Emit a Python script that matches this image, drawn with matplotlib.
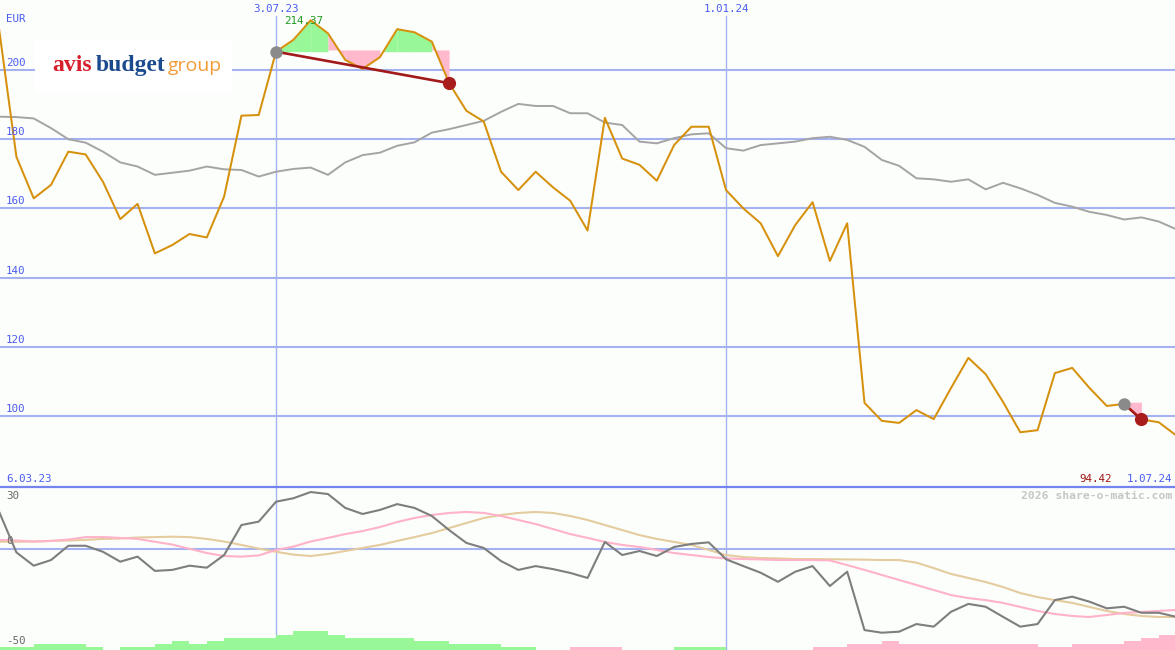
import matplotlib
matplotlib.use('Agg')
import matplotlib.pyplot as plt
import matplotlib.dates as mdates
import matplotlib.transforms as mtransforms
from matplotlib.patches import Rectangle
from matplotlib.lines import Line2D
import numpy as np
import pandas as pd

# ---------------- data (weekly) ----------------
weeks = pd.date_range('2023-03-13', periods=69, freq='7D')

price = [211.8, 174.9, 162.9, 166.8, 176.4, 175.6, 167.7, 156.9, 161.3, 147.0,
         149.4, 152.6, 151.6, 163.4, 186.8, 187.0, 205.3, 208.7, 214.37, 210.6,
         202.9, 200.3, 203.7, 211.8, 210.9, 208.2, 196.2, 188.2, 185.1, 170.6,
         165.3, 170.6, 166.1, 162.2, 153.6, 186.2, 174.4, 172.6, 168.0, 178.3,
         183.6, 183.6, 165.3, 160.0, 155.7, 146.2, 155.2, 161.8, 144.8, 155.7,
         103.8, 98.6, 98.0, 101.7, 99.1, 108.1, 116.8, 112.1, 104.1, 95.3,
         95.9, 112.4, 113.9, 108.1, 102.9, 103.5, 99.0, 98.2, 94.42]

bench = [186.5, 186.4, 186.0, 183.2, 180.0, 179.0, 176.4, 173.3, 172.1, 169.7,
         170.3, 170.9, 172.1, 171.3, 171.1, 169.2, 170.6, 171.4, 171.8, 169.7,
         173.3, 175.4, 176.1, 178.1, 179.1, 181.9, 182.9, 184.1, 185.3, 187.9,
         190.2, 189.6, 189.6, 187.5, 187.5, 184.8, 184.1, 179.3, 178.8, 180.3,
         181.4, 181.7, 177.4, 176.7, 178.3, 178.8, 179.3, 180.3, 180.7, 179.8,
         177.8, 174.0, 172.3, 168.7, 168.4, 167.7, 168.4, 165.5, 167.4, 165.8,
         163.9, 161.6, 160.5, 159.0, 158.1, 156.8, 157.4, 156.2, 154.0]

momentum = [18.7, -1.5, -8.1, -5.3, 1.8, 1.8, -1.2, -6.1, -3.6, -10.7,
            -10.2, -8.1, -9.1, -2.8, 12.1, 13.8, 23.7, 25.4, 28.5, 27.5,
            20.6, 17.6, 19.6, 22.5, 20.6, 16.6, 9.6, 3.2, 0.7, -5.8,
            -10.2, -8.3, -9.8, -11.7, -14.2, 3.7, -2.8, -0.8, -3.3, 1.2,
            2.7, 3.5, -4.9, -8.3, -11.6, -16.1, -11.1, -8.3, -18.2, -11.1,
            -40.1, -41.4, -40.9, -37.1, -38.4, -31.0, -27.1, -28.5, -33.5, -38.4,
            -37.1, -25.2, -23.5, -26.0, -29.3, -28.5, -31.5, -31.5, -33.5]

sig_fast = [4.7, 4.4, 3.9, 4.2, 4.9, 6.1, 6.1, 5.7, 5.2, 3.8,
            2.4, 0.3, -1.8, -3.3, -3.6, -3.0, -0.3, 1.4, 3.9, 5.7,
            7.6, 9.1, 11.1, 13.6, 15.6, 17.1, 18.1, 18.6, 18.1, 16.6,
            14.6, 12.6, 10.1, 7.6, 5.7, 3.7, 2.2, 1.2, -0.3, -1.8,
            -2.8, -3.8, -4.5, -4.8, -5.0, -5.3, -5.3, -5.3, -5.5, -7.8,
            -10.2, -12.7, -15.2, -17.7, -20.2, -22.7, -24.2, -25.2, -26.6, -28.6,
            -30.6, -32.1, -33.1, -33.6, -32.6, -31.6, -31.1, -30.6, -30.1]

sig_slow = [3.8, 3.8, 3.9, 4.2, 4.4, 4.7, 5.2, 5.4, 5.9, 6.1,
            6.3, 6.1, 5.2, 3.9, 2.2, 0.4, -1.2, -2.6, -3.3, -2.3,
            -0.8, 0.7, 2.2, 4.2, 6.1, 8.1, 10.6, 13.1, 15.6, 17.1,
            18.1, 18.6, 18.1, 16.6, 14.6, 12.1, 9.6, 7.1, 5.2, 3.7,
            2.2, -0.3, -2.8, -3.8, -4.3, -4.5, -4.8, -4.8, -4.9, -5.0,
            -5.1, -5.3, -5.3, -6.6, -9.3, -12.2, -14.2, -16.2, -18.7, -21.7,
            -23.7, -25.2, -26.6, -28.6, -30.6, -32.1, -33.1, -33.6, -33.6]

# weekly histogram (positive = green, negative = pink), one per interval
hist = [1.5, 1.5, 3, 3, 3, 1.5, 0, 1.5, 1.5, 3,
        4.5, 3, 4.5, 6, 6, 6, 7.5, 9.5, 9.5, 7.5,
        6, 6, 6, 6, 4.5, 4.5, 3, 3, 3, 1.5,
        1.5, 0, 0, -1.5, -1.5, -1.5, 0, 0, 0, 1.5,
        1.5, 1.5, 0, 0, 0, 0, 0, -1.5, -1.5, -3,
        -3, -4.5, -3, -3, -3, -3, -3, -3, -3, -3,
        -1.5, -1.5, -3, -3, -3, -4.5, -6, -7.5]

price_ticks = [200, 180, 160, 140, 120, 100]
marked_dates = ['2023-07-03', '2024-01-01']
trend_windows = [(16, 26), (65, 66)]   # start / end week index of trend markers
first_label = '6.03.23'
last_label = '1.07.24'

# ---------------- styles ----------------
BG = '#FCFEFC'
GRID = '#A4B2F2'
SEP = '#7484EE'
TXT_BLUE = '#4A5CF0'
ORANGE = '#D6910C'
BENCH = '#A4A4A4'
GREENF = '#98F898'
PINKF = '#FFB8CC'
MONO = 'DejaVu Sans Mono'
FS = 7.8

W, H = 1175.0, 650.0
fig = plt.figure(figsize=(11.75, 6.5), dpi=100)
fig.patch.set_facecolor(BG)
ax = fig.add_axes([0, (H - 487) / H, 1, 487 / H])
ax2 = fig.add_axes([0, 0, 1, (H - 487) / H])
for a in (ax, ax2):
    a.set_facecolor(BG)
    for s in a.spines.values():
        s.set_visible(False)
    a.set_xticks([])
    a.set_yticks([])

x = mdates.date2num(weeks)
xl = (x[0] + 0.36, x[0] + 67.94 * 7)
ax.set_xlim(xl)
ax2.set_xlim(xl)
ax.set_ylim(79.48, 220.23)
ax2.set_ylim(-50, 31.0)

p = np.array(price)

# grid lines
for v in price_ticks:
    ax.axhline(v, color=GRID, lw=1.5, zorder=1)
ax2.axhline(0, color=GRID, lw=1.5, zorder=1)
for d in marked_dates:
    xd = mdates.date2num(pd.Timestamp(d))
    ax.axvline(xd, ymin=0, ymax=(487 - 16) / 487, color=GRID, lw=1.0, zorder=1)
    ax2.axvline(xd, color=GRID, lw=1.0, zorder=1)
    ax.text(xd, 1 - 9 / 487, pd.Timestamp(d).strftime('%-d.%m.%y'),
            transform=ax.get_xaxis_transform(), ha='center', va='center',
            fontsize=FS, family=MONO, color=TXT_BLUE)

# separator line between panels
fig.add_artist(Line2D([0, 1], [(H - 487) / H] * 2, color=SEP, lw=1.6,
                      transform=fig.transFigure, zorder=5))

# trend fills
for (a, b) in trend_windows:
    base = p[a]
    for k in range(a, b):
        xs = x[k:k + 2]
        ys = p[k:k + 2]
        if p[k + 1] >= base:
            ax.fill_between(xs, ys, base, where=ys >= base, interpolate=True,
                            color=GREENF, lw=0, zorder=2)
        else:
            ax.fill_between(xs, ys, base + 0.5, color=PINKF, lw=0, zorder=2)

# lines
ax.plot(x, bench, color=BENCH, lw=1.4, zorder=3)
ax.plot(x, p, color=ORANGE, lw=1.45, zorder=4)

for (a, b) in trend_windows:
    ax.plot([x[a], x[b]], [p[a], p[b]], color='#A21A1A', lw=1.9, zorder=5)
    ax.scatter([x[a]], [p[a]], s=80, color='#8A8A8A', zorder=6, lw=0)
    ax.scatter([x[b]], [p[b]], s=90, color='#A81C1C', zorder=6, lw=0)

# max label
imax = int(np.argmax(p))
ax.annotate(f'{p[imax]:.2f}', xy=(x[imax], p[imax]), xytext=(-7, -1),
            textcoords='offset pixels', ha='center', va='center',
            fontsize=FS, family=MONO, color='#1E9A1E', zorder=7)

# y labels main
tr = mtransforms.offset_copy(ax.get_yaxis_transform(), fig=fig, x=0, y=2, units='dots')
for v in price_ticks:
    ax.text(6 / W, v, str(v), transform=tr, ha='left', va='bottom',
            fontsize=FS, family=MONO, color=TXT_BLUE, zorder=7)
ax.text(6 / W, 1 - 19 / 487, 'EUR', transform=ax.transAxes, ha='left', va='center',
        fontsize=FS, family=MONO, color=TXT_BLUE)

# bottom labels main panel
yb = (487 - 479) / 487
ax.text(6 / W, yb, first_label, transform=ax.transAxes, ha='left', va='center',
        fontsize=FS, family=MONO, color=TXT_BLUE)
ax.text(1172 / W, yb, last_label, transform=ax.transAxes, ha='right', va='center',
        fontsize=FS, family=MONO, color=TXT_BLUE)
ax.text(1112 / W, yb, f'{p[-1]:.2f}', transform=ax.transAxes, ha='right', va='center',
        fontsize=FS, family=MONO, color='#A01414')

# lower panel
hv = np.array(hist)
cols = [GREENF if v > 0 else PINKF for v in hv]
ax2.bar(x[:-1], np.abs(hv), width=7, align='edge', bottom=-50, color=cols, lw=0, zorder=2)
ax2.plot(x, sig_slow, color='#E4CC9E', lw=1.5, zorder=3)
ax2.plot(x, sig_fast, color='#FFB2C8', lw=1.5, zorder=3)
ax2.plot(x, momentum, color='#7E7E7E', lw=1.5, zorder=4)

LG = '#6A6A6A'
ax2.text(6 / W, (H - 496) / 163, '30', transform=ax2.transAxes, ha='left', va='center',
         fontsize=FS, family=MONO, color=LG)
ax2.text(6 / W, (H - 541) / 163, '0', transform=ax2.transAxes, ha='left', va='center',
         fontsize=FS, family=MONO, color=LG)
ax2.text(6 / W, (H - 641) / 163, '-50', transform=ax2.transAxes, ha='left', va='center',
         fontsize=FS, family=MONO, color=LG)
ax2.text(1172 / W, (H - 496) / 163, '2026 share-o-matic.com', transform=ax2.transAxes,
         ha='right', va='center', fontsize=8.2, family=MONO, fontweight='bold',
         color='#C6C6C6')

# logo
fig.add_artist(Rectangle((35 / W, 1 - 92 / H), 197 / W, 52 / H, transform=fig.transFigure,
                         facecolor='white', edgecolor='none', zorder=2))
yb_logo = 1 - 71 / H
fig.text(52 / W, yb_logo, 'avis', family='Liberation Serif', fontweight='bold',
         fontsize=17, color='#D71E2B', va='baseline', ha='left', zorder=3)
fig.text(96 / W, yb_logo, 'budget', family='Liberation Serif', fontweight='bold',
         fontsize=17, color='#1B4A8E', va='baseline', ha='left', zorder=3)
fig.text(168 / W, yb_logo, 'group', family='Open Sans',
         fontsize=14, color='#F39C38', va='baseline', ha='left', zorder=3)

fig.savefig('out.png', dpi=100, facecolor=BG)
